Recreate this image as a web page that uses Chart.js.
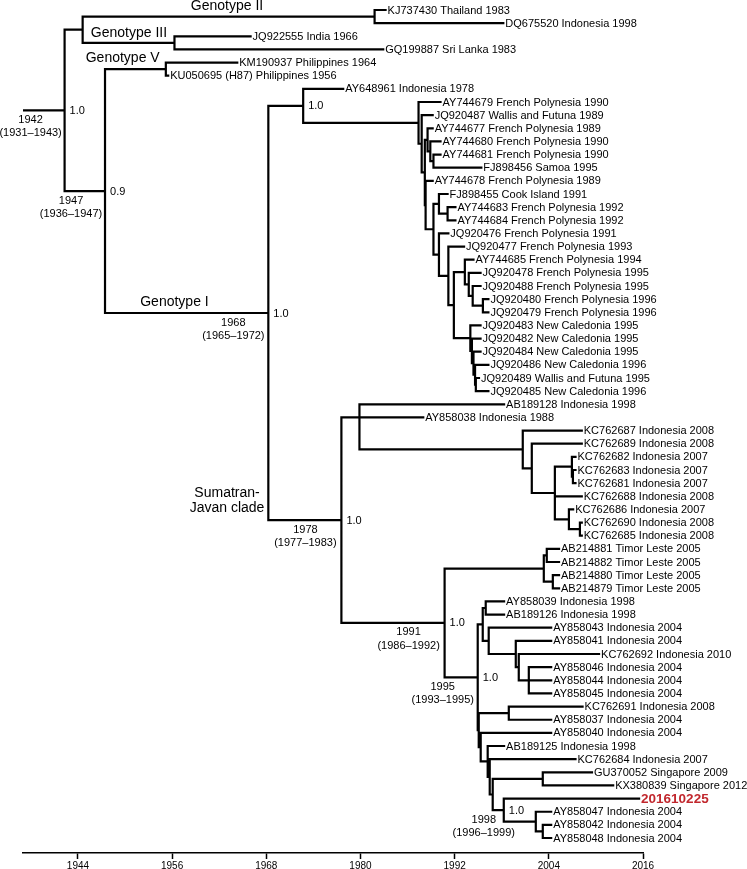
<!DOCTYPE html>
<html><head><meta charset="utf-8">
<script src="https://cdn.jsdelivr.net/npm/chart.js@4/dist/chart.umd.min.js"></script>
<style>html,body{margin:0;padding:0;background:#fff}#wrap{width:747px;height:869px}</style>
</head><body><div id="wrap"><canvas id="c" width="747" height="869"></canvas></div>
<script>
// ---------- data ----------
const tipNames = [
 "KJ737430 Thailand 1983","DQ675520 Indonesia 1998","JQ922555 India 1966","GQ199887 Sri Lanka 1983",
 "KM190937 Philippines 1964","KU050695 (H87) Philippines 1956","AY648961 Indonesia 1978",
 "AY744679 French Polynesia 1990","JQ920487 Wallis and Futuna 1989","AY744677 French Polynesia 1989",
 "AY744680 French Polynesia 1990","AY744681 French Polynesia 1990","FJ898456 Samoa 1995",
 "AY744678 French Polynesia 1989","FJ898455 Cook Island 1991","AY744683 French Polynesia 1992",
 "AY744684 French Polynesia 1992","JQ920476 French Polynesia 1991","JQ920477 French Polynesia 1993",
 "AY744685 French Polynesia 1994","JQ920478 French Polynesia 1995","JQ920488 French Polynesia 1995",
 "JQ920480 French Polynesia 1996","JQ920479 French Polynesia 1996","JQ920483 New Caledonia 1995",
 "JQ920482 New Caledonia 1995","JQ920484 New Caledonia 1995","JQ920486 New Caledonia 1996",
 "JQ920489 Wallis and Futuna 1995","JQ920485 New Caledonia 1996",
 "AB189128 Indonesia 1998","AY858038 Indonesia 1988","KC762687 Indonesia 2008","KC762689 Indonesia 2008",
 "KC762682 Indonesia 2007","KC762683 Indonesia 2007","KC762681 Indonesia 2007","KC762688 Indonesia 2008",
 "KC762686 Indonesia 2007","KC762690 Indonesia 2008","KC762685 Indonesia 2008",
 "AB214881 Timor Leste 2005","AB214882 Timor Leste 2005","AB214880 Timor Leste 2005","AB214879 Timor Leste 2005",
 "AY858039 Indonesia 1998","AB189126 Indonesia 1998","AY858043 Indonesia 2004","AY858041 Indonesia 2004",
 "KC762692 Indonesia 2010","AY858046 Indonesia 2004","AY858044 Indonesia 2004","AY858045 Indonesia 2004",
 "KC762691 Indonesia 2008","AY858037 Indonesia 2004","AY858040 Indonesia 2004","AB189125 Indonesia 1998",
 "KC762684 Indonesia 2007","GU370052 Singapore 2009","KX380839 Singapore 2012","201610225",
 "AY858047 Indonesia 2004","AY858042 Indonesia 2004","AY858048 Indonesia 2004"
];
// tip positions (year)
const tipX = [
 1983.2,1998.2,1966.0,1982.9,1964.3,1955.5,1977.8,
 1990.2,1989.2,1989.2,1990.2,1990.2,1995.4,1989.2,1991.1,1992.1,1992.1,1991.2,1993.2,1994.4,
 1995.3,1995.3,1996.3,1996.3,1995.3,1995.3,1995.3,1996.3,1995.1,1996.3,
 1998.3,1988.0,2008.2,2008.2,2007.4,2007.4,2007.4,2008.2,2007.1,2008.2,2008.2,
 2005.3,2005.3,2005.3,2005.3,
 1998.3,1998.3,2004.3,2004.3,2010.4,2004.3,2004.3,2004.3,2008.3,2004.3,2004.3,1998.3,
 2007.4,2009.5,2012.2,2015.5,2004.3,2004.3,2004.3
];
const highlightTip = 60;
const rootStart = 1937;
// internal nodes: [id, year, children (tip index or node id), optional child index the stem joins]
const nodes = [
 ["root",1942.3,["g23","n1947"]],
 ["g23",1944.6,["g2","g3"]],
 ["g2",1981.8,[0,1]],
 ["g3",1956.3,[2,3]],
 ["n1947",1947.45,["g5","n1968"]],
 ["g5",1955.2,[4,5]],
 ["n1968",1968.26,["g1a","n1978"]],
 ["g1a",1972.7,[6,"nA"]],
 ["nA",1987.4,[7,"nB"]],
 ["nB",1987.8,[8,"nC"]],
 ["nC",1988.2,["nE","nD"]],
 ["nE",1988.55,[9,"nF"]],
 ["nF",1988.9,[10,"nG"]],
 ["nG",1989.3,[11,12]],
 ["nD",1988.3,[13,"nH"]],
 ["nH",1989.3,["nI","nJ"]],
 ["nI",1990.0,[14,"nI2"]],
 ["nI2",1991.1,[15,16]],
 ["nJ",1990.0,[17,"nK"]],
 ["nK",1991.2,[18,"nL"]],
 ["nL",1991.9,["nM","nN"]],
 ["nM",1993.3,[19,"nM2"]],
 ["nM2",1993.8,[20,"nM3"]],
 ["nM3",1994.3,[21,"nM4"]],
 ["nM4",1995.6,[22,23]],
 ["nN",1994.0,[24,"nN2"]],
 ["nN2",1994.2,[25,"nN3"]],
 ["nN3",1994.4,[26,"nN4"]],
 ["nN4",1994.6,[27,"nN5"]],
 ["nN5",1994.7,[28,29]],
 ["n1978",1977.57,["nS1","n1991"]],
 ["nS1",1979.87,[30,31,"nKC"],1],
 ["nKC",2000.68,[32,"nKC1"]],
 ["nKC1",2001.83,[33,"nKC2"]],
 ["nKC2",2004.77,["n682",37,"nLow"]],
 ["n682",2006.94,[34,"n683"]],
 ["n683",2007.07,[35,36]],
 ["nLow",2006.56,[38,"nLow2"]],
 ["nLow2",2007.96,[39,40]],
 ["n1991",1990.72,["nTimor","n1995"]],
 ["nTimor",2003.36,["nT1","nT2"]],
 ["nT1",2003.74,[41,42]],
 ["nT2",2004.51,[43,44]],
 ["n1995",1994.94,["nP1","n1995b"]],
 ["nP1",1995.58,["nP2","nP3"]],
 ["nP2",1995.96,[45,46]],
 ["nP3",1996.34,[47,"nP4"]],
 ["nP4",1999.79,[48,"nP5"]],
 ["nP5",2000.17,[49,"nP6"]],
 ["nP6",2001.45,[50,51,52]],
 ["n1995b",1995.07,["nQ","nW"]],
 ["nQ",1998.9,[53,54]],
 ["nW",1995.32,[55,"nX"]],
 ["nX",1996.21,[56,"nY"]],
 ["nY",1996.47,[57,"nV"]],
 ["nV",1996.85,["nR","nT"]],
 ["nR",2003.23,[58,59]],
 ["nT",1998.26,[60,"nU"]],
 ["nU",2002.34,[61,"nU2"]],
 ["nU2",2003.23,[62,63]]
];
const supportNodes = ["root","n1947","g1a","n1968","n1978","n1991","n1995","nT"];
const supportValues = ["1.0","0.9","1.0","1.0","1.0","1.0","1.0","1.0"];
const dateNodes = ["root","n1947","n1968","n1978","n1991","n1995","nT"];
const dateMedian = ["1942","1947","1968","1978","1991","1995","1998"];
const dateRange = ["(1931–1943)","(1936–1947)","(1965–1972)","(1977–1983)","(1986–1992)","(1993–1995)","(1996–1999)"];
const axisTicks = [1944,1956,1968,1980,1992,2004,2016];
// clade annotations: [text, x year, y (tip-row units)]
const cladeLabels = [
 ["Genotype II",1963.0,-0.3],["Genotype III",1950.5,1.75],["Genotype V",1949.7,3.65],
 ["Genotype I",1956.3,22.2],["Sumatran-",1963.0,36.75],["Javan clade",1963.0,37.9]
];

// ---------- layout helpers ----------
const dateShiftPx = {root:-34,n1947:-34,n1968:-35,n1978:-36,n1991:-36,n1995:-35,nT:-20};
const FONT = '"Liberation Sans", Arial, Helvetica, sans-serif';
const nodeMap = {};
nodes.forEach(n => nodeMap[n[0]] = n);
const yCache = {};
function yOf(k){
  if (typeof k === 'number') return k;
  if (yCache[k] !== undefined) return yCache[k];
  const n = nodeMap[k];
  const ys = n[2].map(yOf);
  const v = (n[3] !== undefined) ? ys[n[3]] : (ys[0] + ys[ys.length-1]) / 2;
  yCache[k] = v; return v;
}
function xOf(k){ return typeof k === 'number' ? tipX[k] : nodeMap[k][1]; }

const gap = {x: null, y: null};
const segs = [];
segs.push({x: rootStart, y: yOf('root')}, {x: xOf('root'), y: yOf('root')}, gap);
nodes.forEach(n => {
  const ys = n[2].map(yOf);
  segs.push({x: n[1], y: Math.min(...ys)}, {x: n[1], y: Math.max(...ys)}, gap);
  n[2].forEach((k, i) => segs.push({x: n[1], y: ys[i]}, {x: xOf(k), y: ys[i]}, gap));
});

const textPlugin = {
  id: 'treeText',
  afterDatasetsDraw(chart){
    const ctx = chart.ctx, xs = chart.scales.x, ys = chart.scales.y;
    ctx.save();
    ctx.textBaseline = 'middle';
    ctx.textAlign = 'left';
    tipNames.forEach((name, i) => {
      const px = xs.getPixelForValue(tipX[i]) + 2;
      const py = ys.getPixelForValue(i);
      if (i === highlightTip){ ctx.font = 'bold 13.5px ' + FONT; ctx.fillStyle = '#c1272d'; }
      else { ctx.font = '11px ' + FONT; ctx.fillStyle = '#000'; }
      ctx.fillText(name, px, py + 0.5);
    });
    ctx.fillStyle = '#000';
    ctx.font = '11px ' + FONT;
    supportNodes.forEach((id, i) => {
      ctx.textAlign = 'left';
      ctx.fillText(supportValues[i], xs.getPixelForValue(xOf(id)) + 5, ys.getPixelForValue(yOf(id)) + 0.5);
    });
    ctx.textAlign = 'center';
    dateNodes.forEach((id, i) => {
      const cx = xs.getPixelForValue(xOf(id)) + dateShiftPx[id];
      const cy = ys.getPixelForValue(yOf(id));
      ctx.fillText(dateMedian[i], cx, cy + 9.5);
      ctx.fillText(dateRange[i], cx, cy + 23);
    });
    ctx.font = '14px ' + FONT;
    cladeLabels.forEach(c => {
      ctx.fillText(c[0], xs.getPixelForValue(c[1]), ys.getPixelForValue(c[2]));
    });
    ctx.restore();
  }
};

Chart.defaults.font.family = FONT;
new Chart(document.getElementById('c'), {
  type: 'scatter',
  data: { datasets: [{
    data: segs, showLine: true, spanGaps: false,
    borderColor: '#000', borderWidth: 2.2, pointRadius: 0, pointHoverRadius: 0,
    borderCapStyle: 'square', tension: 0
  }]},
  options: {
    responsive: false, animation: false,
    layout: { padding: { left: 23, right: 104, top: 0, bottom: 0 } },
    plugins: { legend: { display: false }, tooltip: { enabled: false } },
    scales: {
      x: {
        type: 'linear', min: rootStart, max: 2016,
        afterBuildTicks: s => { s.ticks = axisTicks.map(v => ({value: v})); },
        afterFit: s => { s.height = 16; },
        grid: { drawOnChartArea: false, drawTicks: true, tickLength: 6, tickColor: '#000', tickWidth: 1.5 },
        border: { display: true, color: '#000', width: 1.5 },
        ticks: { font: { size: 10 }, color: '#000', padding: 1, maxRotation: 0, autoSkip: false,
                 callback: v => String(v) }
      },
      y: { type: 'linear', reverse: true, min: -0.76, max: 64.14, display: false }
    }
  },
  plugins: [textPlugin]
});
</script>
</body></html>
